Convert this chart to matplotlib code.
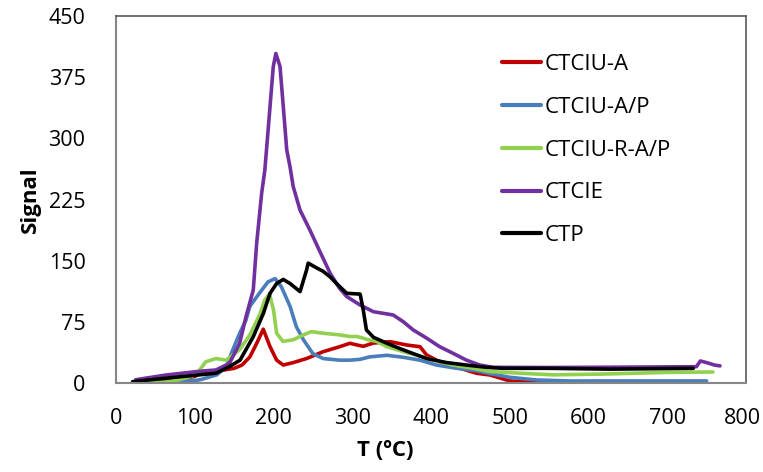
import matplotlib
matplotlib.use("Agg")
import matplotlib.pyplot as plt
import matplotlib.transforms as mtransforms

plt.rcParams['font.family'] = ['Open Sans', 'DejaVu Sans']

# ---- data ----
red_T = [25, 63, 100, 110, 131, 150, 160, 170, 178.7, 187, 195.6, 204, 212.4, 225, 242, 263,
         284, 297, 306, 314, 327, 348, 369, 386, 394.5, 411, 437, 458, 475, 500, 534, 577, 650, 750]
red_S = [0.5, 3, 8, 14, 15, 18, 22, 32, 48.7, 66, 44.5, 28, 22, 25, 30, 38.4,
         44.5, 48.7, 46.6, 45, 49, 50.7, 46.6, 44.5, 34.3, 26, 18, 11.9, 9.8, 2.5, 0.5, 0.3, 0.3, 0.3]

blue_T = [25, 63, 100, 107, 128, 140, 148, 157.5, 165, 170, 182, 193, 202, 210, 221, 229, 238,
          250, 263, 284, 297, 310, 322, 344, 365, 386, 407, 433, 458, 475, 500, 534, 577, 650, 750]
blue_S = [0, 1, 3, 4, 10, 20, 40, 62, 77, 94, 110, 124, 128, 118, 94, 69, 53,
          36, 30, 28, 28, 29, 32, 34, 31.5, 28, 22, 18, 15, 11.5, 7, 3.7, 2.5, 2.5, 2.5]

green_T = [25, 63, 80, 101.6, 114, 127, 140, 157, 170, 183, 189, 195, 200, 204, 212, 225, 238,
           248, 263, 284, 297, 306, 314, 320, 331, 344, 365, 382, 403, 428, 454, 475, 513, 555,
           619, 700, 758]
green_S = [0, 1, 4, 10, 26, 30, 28, 41, 59, 85, 102, 109, 89.5, 61, 51, 53, 59,
           63, 61, 59, 57, 57, 55, 53, 51, 44.5, 38.4, 34, 28, 22, 18, 14, 12, 10,
           11, 13, 13.5]

purple_T = [25, 63.5, 101.6, 127, 144, 157, 165, 174.3, 178.7, 185, 189, 195.6, 199.7, 203,
            208.3, 212.4, 216.8, 221, 225, 233.7, 246, 259, 272, 284, 293, 310, 327, 352, 365,
            377.5, 394.5, 411, 428, 445, 462, 479, 550, 650, 737, 742, 750, 760, 767]
purple_S = [4, 9.8, 13.9, 16, 24, 48.7, 81, 114, 172, 233, 261, 339, 388, 404,
            388, 339, 286, 265, 241, 212, 188, 161, 134.5, 116, 106, 95.6, 87.4, 83.4, 75,
            65, 55, 44.5, 36.4, 28, 22, 19.2, 19, 19.5, 20, 27, 25, 22, 21]

black_T = [21, 64, 106, 127, 144, 157.5, 161, 174.4, 187, 195.6, 204, 212.4, 221, 233.7, 242,
           244, 255, 263, 272, 280, 293, 310, 314, 318, 327, 344, 361, 377.5, 394.5, 420, 445,
           471, 492, 550, 627, 733]
black_S = [1.6, 6, 10, 12, 20, 28, 34, 57, 85, 110, 122, 127, 122, 112, 138.5,
           147, 141, 137, 130, 122, 110, 109, 89.5, 65, 56, 48.7, 42, 36, 30, 25, 22,
           19.2, 18, 18, 17, 18]

labels = ["CTCIU-A", "CTCIU-A/P", "CTCIU-R-A/P", "CTCIE", "CTP"]
colors = ["#C00000", "#4A7EBB", "#92D050", "#7030A0", "#000000"]
x_ticks = [0, 100, 200, 300, 400, 500, 600, 700, 800]
y_ticks = [0, 75, 150, 225, 300, 375, 450]

series = [(red_T, red_S), (blue_T, blue_S), (green_T, green_S),
          (purple_T, purple_S), (black_T, black_S)]

fig = plt.figure(figsize=(7.63, 4.72), dpi=100)
ax = fig.add_axes([116/763, 89/472, 630/763, 367/472])

for (t, s), lab, c in zip(series, labels, colors):
    ax.plot(t, s, color=c, lw=2.6, label=lab, solid_joinstyle='round',
            solid_capstyle='round')

ax.set_xlim(0, 800)
ax.set_ylim(0, 450)
ax.set_xticks(x_ticks)
ax.set_yticks(y_ticks)
fs = 15.5
ax.tick_params(axis='both', length=0, labelsize=fs, colors='black')
ax.tick_params(axis='y', pad=22)
ax.tick_params(axis='x', pad=18)

# keep the last x tick label inside the canvas
fig.canvas.draw()
last = ax.get_xticklabels()[-1]
last.set_transform(last.get_transform() +
                   mtransforms.ScaledTranslation(-4/100, 0, fig.dpi_scale_trans))

for side in ['left', 'bottom']:
    ax.spines[side].set_color('#868686')
    ax.spines[side].set_linewidth(1.5)
for side in ['top', 'right']:
    ax.spines[side].set_color('#595959')
    ax.spines[side].set_linewidth(1.2)

ax.set_xlabel("T (ºC)", fontsize=16, fontweight='bold')
ax.set_ylabel("Signal", fontsize=16, fontweight='bold')
ax.xaxis.set_label_coords(0.427, -0.183)
ax.yaxis.set_label_coords(-0.1365, 0.5)
ax.xaxis.label.set_va('center')
ax.yaxis.label.set_va('center')

leg = ax.legend(loc='upper left', bbox_to_anchor=(502/763, 1 - 54/472),
                bbox_transform=fig.transFigure, frameon=False, fontsize=16,
                handlelength=1.75, handletextpad=0.15, labelspacing=0.98,
                borderpad=0, borderaxespad=0)
for line in leg.get_lines():
    line.set_linewidth(3)

fig.savefig("out.png", dpi=100)
